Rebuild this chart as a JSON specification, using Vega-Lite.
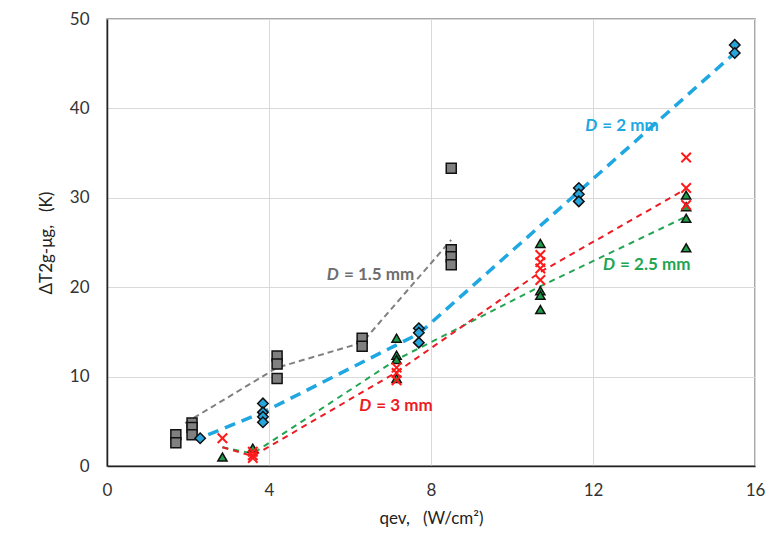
{
  "$schema": "https://vega.github.io/schema/vega-lite/v6.json",
  "width": 648,
  "height": 447,
  "autosize": "none",
  "padding": {"left": 107, "top": 19, "right": 18, "bottom": 76},
  "background": "white",
  "config": {
    "font": "Lato",
    "view": {"stroke": "#8c8c8c", "strokeWidth": 1.5},
    "axis": {"labelFont": "Lato", "titleFont": "Lato", "labelFontSize": 17, "labelColor": "#333", "titleColor": "#222", "gridColor": "#d9d9d9", "gridWidth": 1, "ticks": false, "domainColor": "#222", "domainWidth": 1.5, "labelFlush": false, "labelOverlap": false}
  },
  "datasets": {
    "pts": [
      {"s": "1.5", "x": 1.7, "y": 3.5}, {"s": "1.5", "x": 1.7, "y": 2.6},
      {"s": "1.5", "x": 2.1, "y": 4.8}, {"s": "1.5", "x": 2.1, "y": 4.3}, {"s": "1.5", "x": 2.1, "y": 3.5},
      {"s": "1.5", "x": 4.2, "y": 12.3}, {"s": "1.5", "x": 4.2, "y": 11.4}, {"s": "1.5", "x": 4.2, "y": 9.8},
      {"s": "1.5", "x": 6.3, "y": 14.3}, {"s": "1.5", "x": 6.3, "y": 13.4},
      {"s": "1.5", "x": 8.5, "y": 33.3}, {"s": "1.5", "x": 8.5, "y": 24.2}, {"s": "1.5", "x": 8.5, "y": 23.4}, {"s": "1.5", "x": 8.5, "y": 22.5},
      {"s": "2", "x": 2.3, "y": 3.1},
      {"s": "2", "x": 3.85, "y": 7.0}, {"s": "2", "x": 3.85, "y": 6.0}, {"s": "2", "x": 3.85, "y": 5.5}, {"s": "2", "x": 3.85, "y": 4.9},
      {"s": "2", "x": 7.7, "y": 15.4}, {"s": "2", "x": 7.7, "y": 14.9}, {"s": "2", "x": 7.7, "y": 13.8},
      {"s": "2", "x": 11.65, "y": 31.1}, {"s": "2", "x": 11.65, "y": 30.4}, {"s": "2", "x": 11.65, "y": 29.6},
      {"s": "2", "x": 15.5, "y": 47.1}, {"s": "2", "x": 15.5, "y": 46.2},
      {"s": "2.5", "x": 2.85, "y": 1.0}, {"s": "2.5", "x": 3.6, "y": 2.0},
      {"s": "2.5", "x": 7.15, "y": 14.3}, {"s": "2.5", "x": 7.15, "y": 12.4}, {"s": "2.5", "x": 7.15, "y": 11.9}, {"s": "2.5", "x": 7.15, "y": 9.8},
      {"s": "2.5", "x": 10.7, "y": 24.9}, {"s": "2.5", "x": 10.7, "y": 19.6}, {"s": "2.5", "x": 10.7, "y": 19.1}, {"s": "2.5", "x": 10.7, "y": 17.5},
      {"s": "2.5", "x": 14.3, "y": 30.3}, {"s": "2.5", "x": 14.3, "y": 29.0}, {"s": "2.5", "x": 14.3, "y": 27.7}, {"s": "2.5", "x": 14.3, "y": 24.4},
      {"s": "3", "x": 2.85, "y": 3.1},
      {"s": "3", "x": 3.6, "y": 1.6}, {"s": "3", "x": 3.6, "y": 1.2}, {"s": "3", "x": 3.6, "y": 0.9},
      {"s": "3", "x": 7.15, "y": 11.0}, {"s": "3", "x": 7.15, "y": 10.4}, {"s": "3", "x": 7.15, "y": 9.6},
      {"s": "3", "x": 10.7, "y": 23.6}, {"s": "3", "x": 10.7, "y": 22.8}, {"s": "3", "x": 10.7, "y": 22.1}, {"s": "3", "x": 10.7, "y": 20.8},
      {"s": "3", "x": 14.3, "y": 34.5}, {"s": "3", "x": 14.3, "y": 31.1}, {"s": "3", "x": 14.3, "y": 29.2}
    ],
    "lines": [
      {"s": "1.5", "x": 1.93, "y": 4.8}, {"s": "1.5", "x": 4.2, "y": 11.0}, {"s": "1.5", "x": 6.3, "y": 13.8}, {"s": "1.5", "x": 8.5, "y": 25.3},
      {"s": "2", "x": 2.5, "y": 3.5}, {"s": "2", "x": 3.85, "y": 6.0}, {"s": "2", "x": 7.7, "y": 14.8}, {"s": "2", "x": 11.6, "y": 30.5}, {"s": "2", "x": 15.5, "y": 46.2},
      {"s": "2.5", "x": 2.85, "y": 2.1}, {"s": "2.5", "x": 3.6, "y": 1.4}, {"s": "2.5", "x": 7.15, "y": 11.9}, {"s": "2.5", "x": 10.7, "y": 20.1}, {"s": "2.5", "x": 14.3, "y": 27.9},
      {"s": "3", "x": 2.85, "y": 2.1}, {"s": "3", "x": 3.6, "y": 1.1}, {"s": "3", "x": 7.15, "y": 10.5}, {"s": "3", "x": 10.7, "y": 21.7}, {"s": "3", "x": 14.3, "y": 31.0}
    ],
    "labels": [
      {"s": "1.5", "x": 5.8, "y": 21.4, "t": "= 1.5 mm"},
      {"s": "2", "x": 12.18, "y": 38.0, "t": "= 2 mm"},
      {"s": "2.5", "x": 12.62, "y": 22.5, "t": "= 2.5 mm"},
      {"s": "3", "x": 6.6, "y": 6.7, "t": "= 3 mm"}
    ]
  },
  "encoding": {
    "x": {"field": "x", "type": "quantitative", "scale": {"domain": [0, 16], "nice": false},
      "axis": {"values": [0, 4, 8, 12, 16], "title": "qev,\u00a0\u00a0\u00a0(W/cm²)", "titleFontSize": 17, "titleFontWeight": "normal", "labelPadding": 16, "titlePadding": 12, "grid": true}},
    "y": {"field": "y", "type": "quantitative", "scale": {"domain": [0, 50], "nice": false},
      "axis": {"values": [0, 10, 20, 30, 40, 50], "title": "ΔT2g-μg,\u00a0\u00a0\u00a0(K)", "titleFontSize": 17, "titleFontWeight": "normal", "labelPadding": 18, "titlePadding": 14, "grid": true}}
  },
  "layer": [
    {"data": {"name": "lines"}, "transform": [{"filter": "datum.s === '1.5'"}],
      "mark": {"type": "line", "color": "#808080", "strokeWidth": 2, "strokeDash": [6, 4]}, "encoding": {"order": {"field": "x"}}},
    {"data": {"name": "lines"}, "transform": [{"filter": "datum.s === '2'"}],
      "mark": {"type": "line", "color": "#1ea7e1", "strokeWidth": 3.5, "strokeDash": [11, 7]}, "encoding": {"order": {"field": "x"}}},
    {"data": {"name": "lines"}, "transform": [{"filter": "datum.s === '2.5'"}],
      "mark": {"type": "line", "color": "#22a552", "strokeWidth": 2, "strokeDash": [6, 5]}, "encoding": {"order": {"field": "x"}}},
    {"data": {"name": "lines"}, "transform": [{"filter": "datum.s === '3'"}],
      "mark": {"type": "line", "color": "#ec1c24", "strokeWidth": 2, "strokeDash": [6, 5]}, "encoding": {"order": {"field": "x"}}},
    {"data": {"name": "pts"}, "transform": [{"filter": "datum.s === '1.5'"}],
      "mark": {"type": "point", "shape": "square", "filled": true, "fill": "#808080", "stroke": "#111", "strokeWidth": 1.5, "size": 100, "opacity": 1}},
    {"data": {"name": "pts"}, "transform": [{"filter": "datum.s === '2'"}],
      "mark": {"type": "point", "shape": "diamond", "filled": true, "fill": "#26a4dc", "stroke": "#111", "strokeWidth": 1.5, "size": 110, "opacity": 1}},
    {"data": {"name": "pts"}, "transform": [{"filter": "datum.s === '2.5'"}],
      "mark": {"type": "point", "shape": "triangle-up", "filled": true, "fill": "#1f9e4a", "stroke": "#111", "strokeWidth": 1.5, "size": 85, "opacity": 1}},
    {"data": {"name": "pts"}, "transform": [{"filter": "datum.s === '3'"}],
      "mark": {"type": "point", "shape": "M-1,-1L1,1M1,-1L-1,1", "filled": false, "stroke": "#ff1a1a", "strokeWidth": 2, "size": 90, "opacity": 1}},
    {"data": {"name": "labels"},
      "mark": {"type": "text", "fontSize": 17, "fontWeight": "bold", "font": "Lato", "align": "left", "baseline": "middle", "dx": 2},
      "encoding": {"text": {"field": "t"},
        "color": {"field": "s", "type": "nominal", "legend": null, "scale": {"domain": ["1.5", "2", "2.5", "3"], "range": ["#6e6e6e", "#1ea7e1", "#22a552", "#ec1c24"]}}}},
    {"data": {"name": "labels"},
      "mark": {"type": "text", "text": "D", "fontSize": 17, "fontWeight": "bold", "fontStyle": "italic", "font": "Lato", "align": "right", "baseline": "middle", "dx": -3},
      "encoding": {
        "color": {"field": "s", "type": "nominal", "legend": null}}}
  ]
}
